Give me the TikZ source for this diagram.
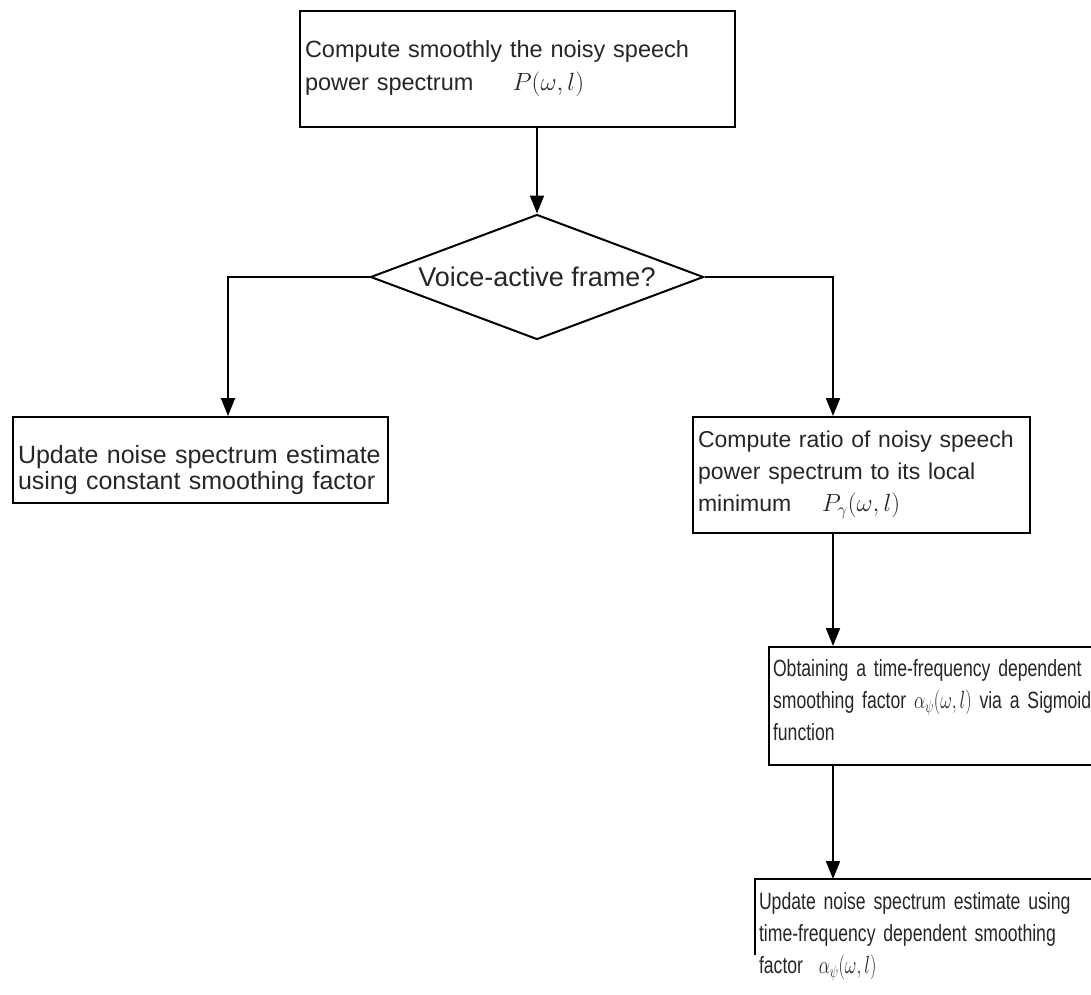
\documentclass[tikz,border=0pt]{standalone}
\usepackage{fontspec}
\usepackage{graphicx}
\setmainfont{Liberation Sans}
\newfontfamily\narrowsf[FakeStretch=0.75]{Liberation Sans}
\newcommand{\nm}[1]{\scalebox{0.72}[1]{$#1$}}
\usetikzlibrary{shapes.geometric,arrows.meta}
\begin{document}
\begin{tikzpicture}[x=1pt,y=-1pt,
  box/.style={draw, line width=2pt, rectangle, align=left, inner ysep=0pt, inner xsep=5pt, font=\fontsize{23}{32}\selectfont, text=black!85},
  dec/.style={draw, diamond, line width=2pt, aspect=2.66, minimum width=333pt, minimum height=125pt, inner sep=0pt, font=\fontsize{27}{32}\selectfont, text=black!85},
  conn/.style={line width=2pt, -{Triangle[length=18pt,width=14pt]}},
]
\useasboundingbox (0,0) rectangle (1091,994);
\clip (0,0) rectangle (1091,994);
\fill[white] (0,0) rectangle (1091,994);

\node[box, text width=425pt, minimum height=116pt, font=\fontsize{23.5}{33}\selectfont] (b1) at (517.5,69)
  {\rule[-8pt]{0pt}{0pt}Compute smoothly the noisy speech\\power spectrum\quad\ \ $P(\omega,l)$\rule[-8pt]{0pt}{0pt}};
\node[dec] (d) at (537,277) {Voice-active frame?};
\node[box, text width=365pt, minimum height=86pt, font=\fontsize{25}{26}\selectfont] (b2) at (200.5,460)
  {\rule{0pt}{38pt}Update noise spectrum estimate\\using constant smoothing factor};
\node[box, text width=327pt, minimum height=116pt] (b3) at (861.5,475)
  {Compute ratio of noisy speech\\power spectrum to its local\\minimum\quad\ $P_{\gamma}(\omega,l)$};
\node[box, text width=420pt, minimum height=118pt, anchor=west, inner xsep=4pt, font=\narrowsf\fontsize{23.5}{32}\selectfont] (b4) at (768,706)
  {Obtaining a time-frequency dependent\\smoothing factor \nm{\alpha_{\psi}(\omega,l)} via a Sigmoid\\function\rule[-12pt]{0pt}{0pt}};
\node[box, draw=none, text width=420pt, minimum height=114pt, anchor=west, inner xsep=3pt, font=\narrowsf\fontsize{23.5}{32}\selectfont] (b5) at (755,937)
  {Update noise spectrum estimate using\\time-frequency dependent smoothing\\factor\ \ \nm{\alpha_{\psi}(\omega,l)}};
\draw[line width=2pt] ([yshift=40pt]b5.south west) -- (b5.north west) -- (b5.north east);

\coordinate (ra) at (833,0);
\draw[conn] (d.north |- b1.south) -- (d.north);
\draw[conn] (d.west) -| ([xshift=27.5pt]b2.north);
\draw[conn] (d.east) -| (ra |- b3.north);
\draw[conn] (ra |- b3.south) -- (ra |- b4.north);
\draw[conn] (ra |- b4.south) -- (ra |- b5.north);
\end{tikzpicture}
\end{document}
